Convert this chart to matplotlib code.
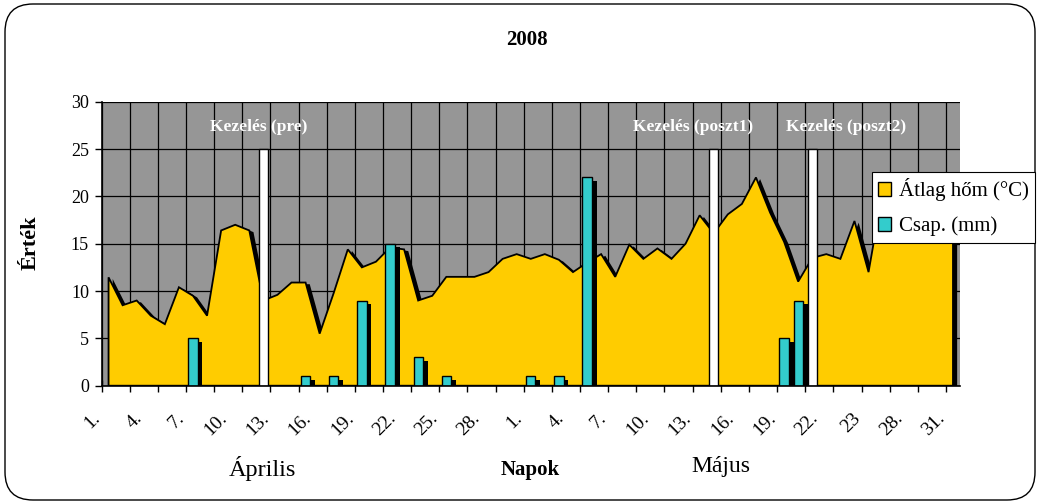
import matplotlib
matplotlib.use('Agg')
import matplotlib.pyplot as plt
import matplotlib.patheffects as pe
import matplotlib.transforms as mtransforms
from matplotlib.patches import Patch, FancyBboxPatch

plt.rcParams['font.family'] = ['Liberation Serif', 'DejaVu Serif']

# napok: 2008. április 1. - május 31. (61 nap)
napok = list(range(61))

atlag_hom = [11.45, 8.5, 9.0, 7.4, 6.5, 10.4, 9.5, 7.4, 16.4, 17.0,
             16.4, 9.0, 9.6, 10.9, 10.9, 5.5, 9.8, 14.4, 12.5, 13.1,
             14.6, 14.4, 9.0, 9.5, 11.5, 11.5, 11.5, 12.0, 13.4, 13.9,
             13.4, 13.9, 13.3, 12.0, 13.0, 13.9, 11.5, 14.9, 13.4, 14.5,
             13.4, 15.0, 18.0, 16.1, 18.1, 19.2, 22.0, 18.3, 15.2, 11.0,
             13.5, 13.9, 13.4, 17.4, 12.0, 20.5, 19.0, 18.5, 19.5, 18.0,
             17.5]

csap = [0, 0, 0, 0, 0, 0, 5, 0, 0, 0,
        0, 0, 0, 0, 1, 0, 1, 0, 9, 0,
        15, 0, 3, 0, 1, 0, 0, 0, 0, 0,
        1, 0, 1, 0, 22, 0, 0, 0, 0, 0,
        0, 0, 0, 0, 0, 0, 0, 0, 5, 9,
        0, 0, 0, 0, 0, 0, 0, 0, 0, 0,
        0]

kezeles_napok = [11, 43, 50]
kezeles_ertek = [25, 25, 25]
kezeles_nevek = ['Kezelés (pre)', 'Kezelés (poszt1)', 'Kezelés (poszt2)']

tick_labels = ['1.', '4.', '7.', '10.', '13.', '16.', '19.', '22.', '25.', '28.',
               '1.', '4.', '7.', '10.', '13.', '16.', '19.', '22.', '23', '28.', '31.']

YELLOW = '#FFCC00'
CYAN = '#33CCCC'
GRAY = '#969696'

fig = plt.figure(figsize=(10.4, 5.04), dpi=100)
ax = fig.add_axes([0.0976, 0.2347, 0.8255, 0.5635])
ax.set_facecolor(GRAY)

# terület (átlaghőmérséklet)
poly_x = [napok[0]] + napok + [napok[-1]]
poly_y = [0] + atlag_hom + [0]
ax.fill(poly_x, poly_y, facecolor=YELLOW, edgecolor='black', linewidth=1.3, zorder=2,
        path_effects=[pe.withSimplePatchShadow(offset=(3, -1.2), shadow_rgbFace='black', alpha=1.0)])

# csapadék oszlopok
rx = [d for d, v in zip(napok, csap) if v > 0]
rv = [v for v in csap if v > 0]
ax.bar(rx, rv, width=0.66, color=CYAN, edgecolor='black', linewidth=1.0, zorder=3,
       path_effects=[pe.withSimplePatchShadow(offset=(3.5, -2.4), shadow_rgbFace='black', alpha=1.0)])

# kezelések
ax.bar(kezeles_napok, kezeles_ertek, width=0.66, color='white', edgecolor='black',
       linewidth=1.0, zorder=4)
for d, nev, dx in zip(kezeles_napok, kezeles_nevek, [-0.3, -1.5, 2.4]):
    ax.text(d + dx, 27.3, nev, color='white', fontweight='bold', fontsize=12.5,
            ha='center', va='center', zorder=5)

ax.set_xlim(-0.5, 60.5)
ax.set_ylim(0, 30)
ax.set_yticks(range(0, 31, 5))
ax.set_yticklabels([str(v) for v in range(0, 31, 5)], fontsize=13)

grid_x = [i - 0.5 for i in range(0, 61, 2)]
ax.set_xticks(grid_x)
ax.set_xticklabels([])
ax.tick_params(axis='x', which='major', direction='inout', length=9, width=1)
ax.tick_params(axis='y', direction='out', length=5, width=1, pad=4)

# napok feliratai (45 fokban elforgatva)
lab_trans = ax.get_xaxis_transform() + mtransforms.ScaledTranslation(-0.05, -0.36, fig.dpi_scale_trans)
for d, lab in zip(napok[::3], tick_labels):
    ax.text(d, 0, lab, transform=lab_trans, rotation=45, rotation_mode='anchor',
            ha='right', va='bottom', fontsize=14, clip_on=False)

ax.set_axisbelow(True)
ax.grid(True, which='major', color='black', linewidth=0.9)
for s in ['top', 'right']:
    ax.spines[s].set_visible(False)
for s in ['left', 'bottom']:
    ax.spines[s].set_linewidth(1.2)
    ax.spines[s].set_zorder(6)

# feliratok
fig.text(0.507, 0.921, '2008', fontsize=15, fontweight='bold', ha='center', va='center')
fig.text(0.029, 0.518, 'Érték', fontsize=16, fontweight='bold', rotation=90,
         ha='center', va='center')
fig.text(0.252, 0.071, 'Április', fontsize=17.5, ha='center', va='center')
fig.text(0.51, 0.067, 'Napok', fontsize=15, fontweight='bold', ha='center', va='center')
fig.text(0.693, 0.075, 'Május', fontsize=17, ha='center', va='center')

handles = [Patch(facecolor=YELLOW, edgecolor='black', linewidth=1.0),
           Patch(facecolor=CYAN, edgecolor='black', linewidth=1.0)]
leg = fig.legend(handles, ['Átlag hőm (°C)', 'Csap. (mm)'], loc='upper left',
                 bbox_to_anchor=(0.838, 0.659), fontsize=15, frameon=True,
                 fancybox=False, edgecolor='black', framealpha=1,
                 handlelength=0.65, handleheight=0.65, handletextpad=0.35,
                 borderpad=0.3, labelspacing=0.75, borderaxespad=0)
leg.get_frame().set_linewidth(0.8)
leg.set_zorder(10)

border = FancyBboxPatch((0.05, 0.04), 10.3, 4.96, boxstyle='round,pad=0,rounding_size=0.28',
                        transform=fig.dpi_scale_trans, facecolor='none', edgecolor='black',
                        linewidth=1.0)
fig.patches.append(border)

fig.savefig('out.png', dpi=100)
